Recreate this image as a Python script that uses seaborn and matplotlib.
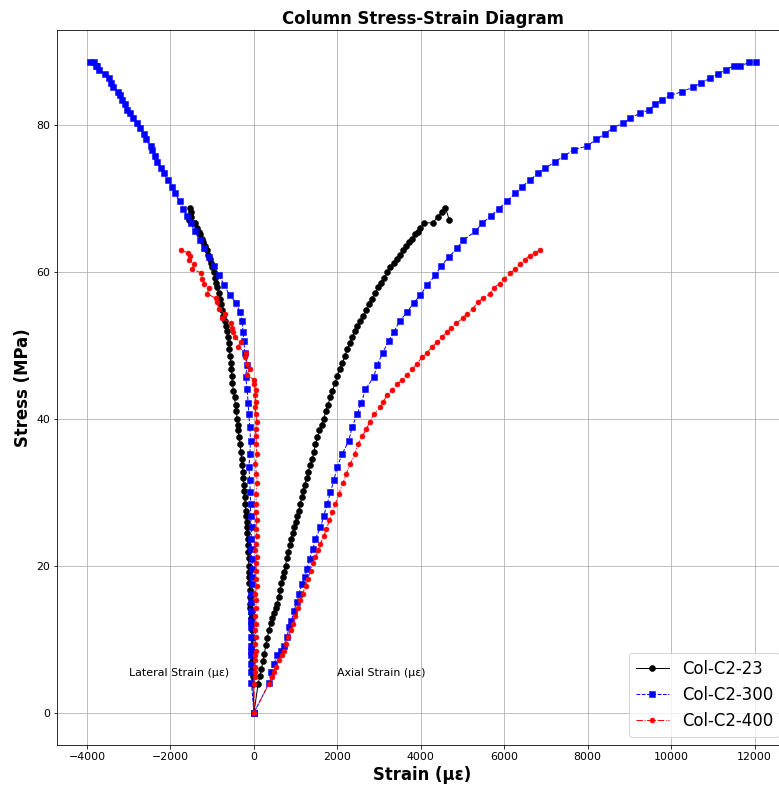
import matplotlib
matplotlib.use("Agg")
import matplotlib.pyplot as plt
import seaborn as sns

# ---- Col-C2-23 : stress (MPa), axial and lateral strain (microstrain) ----
stress_23 = [0, 3.9, 5.0, 6.0, 7.0, 8.0, 9.2, 10.2, 11.2, 12.2, 12.9, 13.6, 14.2, 14.8,
             15.7, 16.7, 17.7, 18.5, 19.2, 20.0, 21.0, 21.9, 22.8, 23.6, 24.4, 25.3,
             26.0, 26.8, 27.5, 28.4, 29.3, 30.1, 31.0, 31.9, 32.8, 33.7, 34.5, 35.5,
             36.5, 37.5, 38.4, 39.2, 40.0, 41.0, 41.9, 42.9, 43.8, 44.8, 45.8, 46.8,
             47.6, 48.6, 49.5, 50.3, 51.1, 51.9, 52.6, 53.3, 54.0, 54.8, 55.6, 56.3,
             57.1, 57.9, 58.5, 59.2, 59.9, 60.6, 61.2, 61.8, 62.3, 62.9, 63.5, 64.0,
             64.5, 65.1, 65.4, 65.9, 66.6, 66.7, 67.5, 68.2, 68.7, 67.0]
axial_23 = [0, 100, 140, 180, 215, 250, 285, 320, 357, 400, 440, 480, 520, 557,
            590, 625, 660, 690, 725, 757, 790, 825, 860, 895, 930, 965,
            1000, 1040, 1076, 1110, 1145, 1180, 1220, 1260, 1300, 1345, 1396, 1435,
            1475, 1520, 1570, 1620, 1675, 1720, 1770, 1830, 1880, 1940, 2000, 2060,
            2120, 2180, 2240, 2300, 2354, 2420, 2480, 2550, 2617, 2680, 2750, 2820,
            2900, 2970, 3040, 3110, 3192, 3270, 3350, 3430, 3500, 3580, 3650, 3720,
            3800, 3870, 3930, 3990, 4070, 4294, 4405, 4510, 4589, 4685]
lateral_23 = [0, -25, -30, -35, -38, -40, -42, -45, -50, -60, -68, -78, -85, -90,
              -95, -102, -108, -113, -118, -122, -130, -137, -144, -150, -158, -166,
              -175, -185, -195, -210, -222, -232, -243, -255, -268, -282, -295, -312,
              -335, -361, -378, -390, -400, -420, -440, -465, -490, -515, -528, -540,
              -555, -572, -590, -605, -625, -648, -670, -705, -732, -765, -795, -822,
              -845, -879, -905, -930, -962, -995, -1030, -1065, -1095, -1130, -1165, -1210,
              -1250, -1290, -1320, -1360, -1420, -1445, -1500, -1520, -1540, -1565]

# ---- Col-C2-300 ----
stress_300 = [0, 4.1, 5.5, 6.6, 7.8, 8.4, 9.1, 10.3, 11.6, 12.5, 13.9, 15.0, 16.2, 17.5,
              18.4, 19.6, 20.9, 22.3, 23.7, 25.2, 26.8, 28.4, 30.0, 31.6, 33.4, 35.2,
              37.0, 38.9, 40.6, 42.1, 44.0, 45.7, 47.3, 49.0, 50.6, 51.8, 53.3, 54.5,
              55.8, 56.8, 58.2, 59.5, 60.8, 62.0, 63.2, 64.3, 65.5, 66.6, 67.6, 68.6,
              69.6, 70.7, 71.6, 72.5, 73.4, 74.1, 75.0, 75.7, 76.6, 77.1, 78.0, 78.8,
              79.6, 80.2, 80.9, 81.6, 82.0, 82.8, 83.4, 84.0, 84.5, 85.1, 85.7, 86.3,
              86.9, 87.5, 88.0, 88.0, 88.5, 88.5]
axial_300 = [0, 370, 398, 477, 557, 637, 716, 796, 836, 900, 956, 1036, 1076, 1156,
             1219, 1276, 1332, 1411, 1475, 1595, 1675, 1755, 1835, 1914, 1994, 2114,
             2273, 2354, 2474, 2570, 2673, 2872, 2953, 3088, 3231, 3351, 3495, 3671,
             3830, 3990, 4150, 4350, 4486, 4668, 4869, 5013, 5307, 5468, 5683, 5866,
             6067, 6265, 6426, 6625, 6800, 6984, 7223, 7422, 7662, 7982, 8205, 8421,
             8605, 8845, 9020, 9259, 9458, 9601, 9779, 9977, 10258, 10522, 10713, 10919,
             11111, 11312, 11494, 11654, 11870, 12030]
lateral_300 = [0, -60, -65, -60, -65, -65, -60, -60, -65, -70, -75, -81, -70, -45,
               -41, -50, -41, -81, -70, -57, -81, -81, -90, -98, -122, -98,
               -81, -100, -122, -140, -161, -201, -161, -218, -242, -262, -281, -338,
               -424, -584, -710, -841, -960, -1079, -1199, -1303, -1415, -1518, -1598, -1703,
               -1775, -1902, -1957, -2062, -2158, -2237, -2317, -2381, -2436, -2476, -2596, -2637,
               -2732, -2812, -2891, -2960, -3034, -3100, -3154, -3220, -3260, -3370, -3420, -3475,
               -3571, -3715, -3753, -3790, -3834, -3930]

# ---- Col-C2-400 ----
stress_400 = [0, 3.9, 4.8, 5.5, 6.2, 7.1, 7.8, 8.4, 9.4, 10.3, 11.2, 12.1, 13.2, 14.3,
              15.3, 16.2, 17.3, 18.2, 19.3, 20.3, 21.2, 22.1, 23.0, 24.1, 25.0, 26.2,
              27.3, 28.4, 29.8, 31.2, 32.5, 33.9, 35.2, 36.5, 37.6, 38.6, 39.6, 40.6,
              41.6, 42.3, 43.2, 43.9, 44.7, 45.3, 46.0, 46.7, 47.5, 48.4, 49.0, 49.8,
              50.4, 51.1, 51.8, 52.4, 53.0, 53.7, 54.3, 55.0, 55.9, 56.4, 57.0, 57.8,
              58.4, 59.0, 59.8, 60.4, 61.0, 61.6, 62.2, 62.6, 62.9]
axial_400 = [0, 357, 421, 477, 533, 597, 661, 716, 773, 820, 877, 932, 996, 1061,
             1116, 1172, 1236, 1300, 1356, 1411, 1475, 1540, 1595, 1675, 1739, 1811,
             1875, 1954, 2034, 2130, 2210, 2314, 2417, 2489, 2593, 2697, 2777, 2872,
             3032, 3096, 3192, 3312, 3432, 3551, 3671, 3791, 3911, 4031, 4150, 4270,
             4390, 4510, 4620, 4735, 4852, 5003, 5108, 5252, 5372, 5492, 5650, 5746,
             5889, 5985, 6146, 6265, 6369, 6488, 6608, 6728, 6847]
lateral_400 = [0, 10, 15, 20, 25, 30, 35, 40, 35, 45, 30, 50, 35, 40,
               60, 35, 65, 40, 60, 45, 65, 35, 40, 70, 45, 65,
               40, 60, 45, 80, 55, 35, 70, 60, 45, 40, 65, 50,
               30, 55, 20, 45, 5, -2, -177, -98, -161, -225, -201, -386,
               -321, -465, -490, -520, -560, -760, -704, -841, -896, -920, -1119, -1079,
               -1199, -1238, -1262, -1478, -1439, -1559, -1530, -1583, -1758]

labels = ["Col-C2-23", "Col-C2-300", "Col-C2-400"]
series = [(stress_23, axial_23, lateral_23),
          (stress_300, axial_300, lateral_300),
          (stress_400, axial_400, lateral_400)]
styles = [dict(color="black", linestyle="-", marker="o", markersize=6),
          dict(color="blue", linestyle="--", marker="s", markersize=5.5),
          dict(color="red", linestyle="-.", marker="o", markersize=5)]

fig = plt.figure(figsize=(779 / 72, 786 / 72), dpi=72)
ax = fig.add_axes([57 / 779, 41 / 786, 731 / 779, 715 / 786])

for label, (s, ax_eps, lat_eps), st in zip(labels, series, styles):
    # lateral branch runs from peak load back to the origin, then the axial branch
    xs = list(reversed(lat_eps)) + list(ax_eps)
    ys = list(reversed(s)) + list(s)
    sns.lineplot(x=xs, y=ys, ax=ax, sort=False, estimator=None, label=label,
                 linewidth=1, markeredgecolor=st["color"], markeredgewidth=0.5,
                 **st)

ax.set_xlim(-4720, 12800)
ax.set_ylim(-4.4, 92.9)
ax.set_xticks([-4000, -2000, 0, 2000, 4000, 6000, 8000, 10000, 12000])
ax.set_yticks([0, 20, 40, 60, 80])
ax.grid(True, color="#b0b0b0", linewidth=0.8)
ax.set_axisbelow(True)
ax.tick_params(labelsize=11)

ax.text(-3000, 5, "Lateral Strain (με)", fontsize=11)
ax.text(2000, 5, "Axial Strain (με)", fontsize=11)

ax.set_title("Column Stress-Strain Diagram", fontsize=16.5, fontweight="bold")
ax.set_xlabel("Strain (με)", fontsize=16.5, fontweight="bold")
ax.set_ylabel("Stress (MPa)", fontsize=16.5, fontweight="bold")
ax.legend(loc="lower right", fontsize=16.5)

fig.savefig("out.png", dpi=72)
